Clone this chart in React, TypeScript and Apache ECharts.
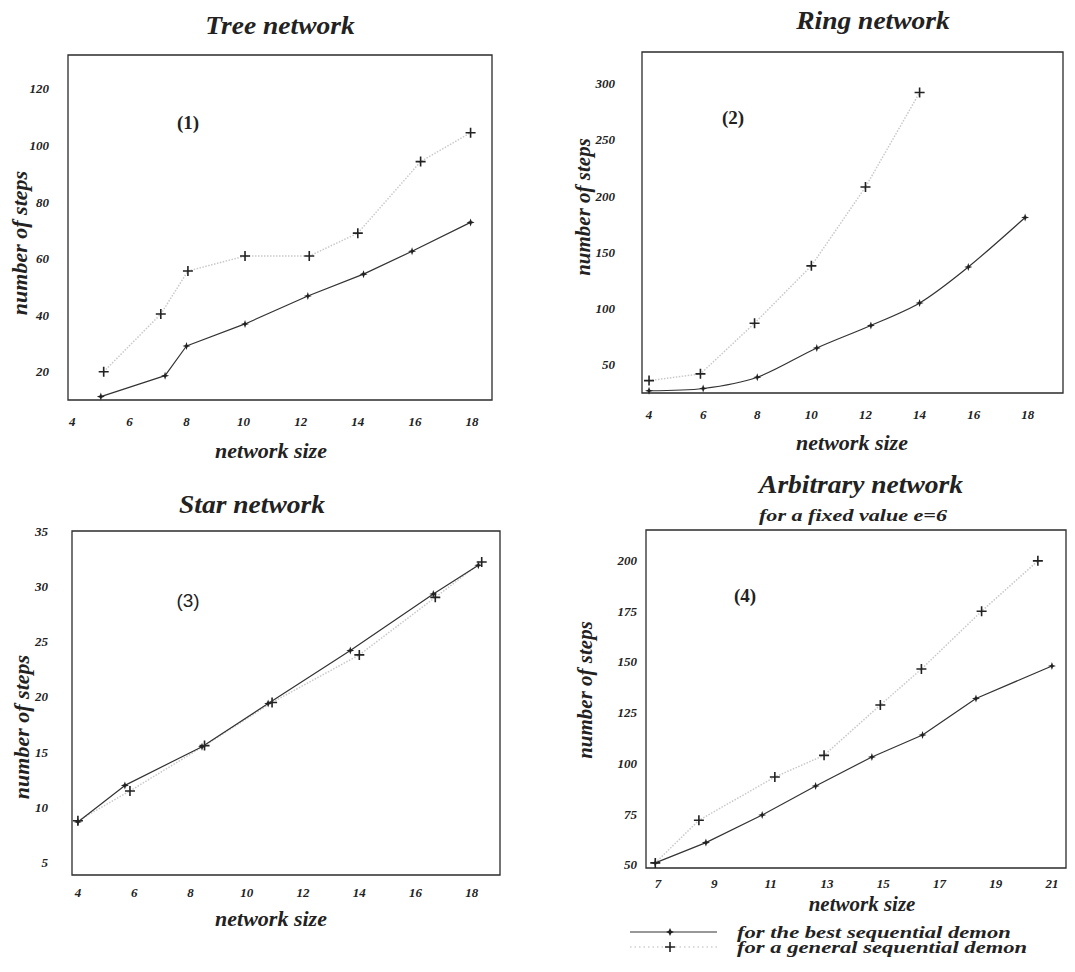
import React, { useEffect, useRef } from "react";
import * as echarts from "echarts";

// ---------- data ----------
// (1) Tree network
const treeBestX = [5, 7.25, 8, 10.05, 12.25, 14.2, 15.9, 17.95];
const treeBestY = [11.2, 18.6, 29.1, 36.9, 46.8, 54.5, 62.6, 72.8];
const treeGenX = [5.1, 7.1, 8.05, 10.05, 12.3, 14, 16.2, 17.95];
const treeGenY = [20, 40.4, 55.6, 60.9, 60.9, 69, 94.3, 104.5];
const treeXTicks = [4, 6, 8, 10, 12, 14, 16, 18];
const treeYTicks = [20, 40, 60, 80, 100, 120];

// (2) Ring network
const ringBestX = [4, 6, 8, 10.2, 12.2, 14, 15.8, 17.9];
const ringBestY = [27, 29, 39, 65, 85, 105, 137, 181];
const ringGenX = [4, 5.9, 7.9, 10, 12, 14];
const ringGenY = [36, 42, 87, 138, 208, 292];
const ringXTicks = [4, 6, 8, 10, 12, 14, 16, 18];
const ringYTicks = [50, 100, 150, 200, 250, 300];

// (3) Star network
const starBestX = [4, 5.67, 8.41, 10.76, 13.68, 16.63, 18.23];
const starBestY = [8.7, 12, 15.5, 19.4, 24.2, 29.3, 31.9];
const starGenX = [4, 5.85, 8.5, 10.9, 14.0, 16.7, 18.35];
const starGenY = [8.8, 11.5, 15.6, 19.5, 23.8, 29.0, 32.2];
const starXTicks = [4, 6, 8, 10, 12, 14, 16, 18];
const starYTicks = [5, 10, 15, 20, 25, 30, 35];

// (4) Arbitrary network
const arbBestX = [6.9, 8.7, 10.7, 12.6, 14.6, 16.4, 18.3, 21];
const arbBestY = [51, 61, 74.6, 88.9, 103.2, 114, 132, 148];
const arbGenX = [6.9, 8.45, 11.15, 12.9, 14.9, 16.36, 18.5, 20.5];
const arbGenY = [51, 72, 93.3, 104, 128.8, 146.5, 175, 199.8];
const arbXTicks = [7, 9, 11, 13, 15, 17, 19, 21];
const arbYTicks = [50, 75, 100, 125, 150, 175, 200];

const legendNames = ["for the best sequential demon", "for a general sequential demon"];

// ---------- styling ----------
const SERIF = '"Liberation Serif", "Times New Roman", serif';
const INK = "#222";
const STAR_SYMBOL =
  "path://M5,0L6.3,3.7L10,5L6.3,6.3L5,10L3.7,6.3L0,5L3.7,3.7Z";
const PLUS_SYMBOL = "path://M4.2,0H5.8V4.2H10V5.8H5.8V10H4.2V5.8H0V4.2H4.2Z";

const zip = (xs: number[], ys: number[]) => xs.map((x, i) => [x, ys[i]]);

type Panel = {
  grid: { left: number; top: number; width: number; height: number };
  xMin: number; xMax: number; yMin: number; yMax: number;
  xTicks: number[]; yTicks: number[];
  xMargin: number; yMargin: number;
  best: number[][]; gen: number[][];
  smooth?: number;
};

const panels: Panel[] = [
  {
    grid: { left: 68, top: 55, width: 424, height: 345 },
    xMin: 3.85, xMax: 18.7, yMin: 10, yMax: 132,
    xTicks: treeXTicks, yTicks: treeYTicks, xMargin: 15, yMargin: 19,
    best: zip(treeBestX, treeBestY), gen: zip(treeGenX, treeGenY),
  },
  {
    grid: { left: 642, top: 52, width: 421, height: 341 },
    xMin: 3.74, xMax: 19.3, yMin: 25, yMax: 328,
    xTicks: ringXTicks, yTicks: ringYTicks, xMargin: 15, yMargin: 27,
    best: zip(ringBestX, ringBestY), gen: zip(ringGenX, ringGenY), smooth: 0.3,
  },
  {
    grid: { left: 72, top: 531, width: 428, height: 344 },
    xMin: 3.79, xMax: 19.0, yMin: 3.9, yMax: 35,
    xTicks: starXTicks, yTicks: starYTicks, xMargin: 11, yMargin: 24,
    best: zip(starBestX, starBestY), gen: zip(starGenX, starGenY),
  },
  {
    grid: { left: 646, top: 530, width: 420, height: 338 },
    xMin: 6.57, xMax: 21.5, yMin: 48.5, yMax: 215,
    xTicks: arbXTicks, yTicks: arbYTicks, xMargin: 9, yMargin: 9,
    best: zip(arbBestX, arbBestY), gen: zip(arbGenX, arbGenY),
  },
];

const tickLabel = (margin: number) => ({
  margin,
  fontFamily: SERIF,
  fontStyle: "italic",
  fontWeight: "bold",
  fontSize: 13,
  color: INK,
});

const text = (
  x: number, y: number, t: string, size: number, opts: any = {}
) => ({
  type: "text",
  x, y,
  rotation: opts.rotation || 0,
  scaleX: opts.scaleX || 1,
  style: {
    text: t,
    fontFamily: opts.fontFamily || SERIF,
    fontStyle: opts.fontStyle || "italic",
    fontWeight: opts.fontWeight || "bold",
    fontSize: size,
    fill: INK,
    textAlign: opts.align || "center",
    textVerticalAlign: "middle",
  },
});

function buildOption() {
  const grid = panels.map((p) => ({
    ...p.grid,
    show: true,
    borderColor: "#2b2b2b",
    borderWidth: 1.3,
    backgroundColor: "transparent",
  }));
  const xAxis = panels.map((p, i) => ({
    type: "value",
    gridIndex: i,
    min: p.xMin,
    max: p.xMax,
    axisLine: { show: false },
    axisTick: { show: false },
    splitLine: { show: false },
    axisLabel: { ...tickLabel(p.xMargin), customValues: p.xTicks },
  }));
  const yAxis = panels.map((p, i) => ({
    type: "value",
    gridIndex: i,
    min: p.yMin,
    max: p.yMax,
    axisLine: { show: false },
    axisTick: { show: false },
    splitLine: { show: false },
    axisLabel: { ...tickLabel(p.yMargin), customValues: p.yTicks },
  }));
  const series: any[] = [];
  panels.forEach((p, i) => {
    series.push({
      name: legendNames[1],
      type: "line",
      xAxisIndex: i,
      yAxisIndex: i,
      data: p.gen,
      symbol: PLUS_SYMBOL,
      symbolSize: 10,
      lineStyle: { color: "#c9c9c9", width: 1.5, type: "dotted" },
      itemStyle: { color: INK },
      z: 2,
    });
    series.push({
      name: legendNames[0],
      type: "line",
      xAxisIndex: i,
      yAxisIndex: i,
      data: p.best,
      smooth: p.smooth || false,
      symbol: STAR_SYMBOL,
      symbolSize: 8,
      lineStyle: { color: "#333", width: 1.2 },
      itemStyle: { color: INK },
      z: 3,
    });
  });

  const graphic: any[] = [
    // titles
    text(280, 26, "Tree network", 25, { scaleX: 1.1 }),
    text(873, 21, "Ring network", 25, { scaleX: 1.1 }),
    text(252, 505, "Star network", 25, { scaleX: 1.1 }),
    text(861, 485, "Arbitrary network", 25, { scaleX: 1.1 }),
    text(853, 515, "for a fixed value e=6", 17, { scaleX: 1.3 }),
    // panel tags
    text(188, 122, "(1)", 19, { fontStyle: "normal" }),
    text(733, 117, "(2)", 19, { fontStyle: "normal" }),
    text(188, 600, "(3)", 19, { fontStyle: "normal", fontWeight: "normal", fontFamily: '"Liberation Sans", Arial, sans-serif' }),
    text(745, 595, "(4)", 19, { fontStyle: "normal" }),
    // y axis names
    text(19, 243, "number of steps", 22, { rotation: Math.PI / 2 }),
    text(583, 207, "number of steps", 21, { rotation: Math.PI / 2 }),
    text(21, 727, "number of steps", 22, { rotation: Math.PI / 2 }),
    text(585, 690, "number of steps", 21, { rotation: Math.PI / 2 }),
    // x axis names
    text(271, 450, "network size", 22),
    text(852, 442, "network size", 22),
    text(271, 918, "network size", 22),
    text(862, 904, "network size", 21),
    // legend
    { type: "line", shape: { x1: 630, y1: 932, x2: 717, y2: 932 }, style: { stroke: "#333", lineWidth: 1.2 } },
    { type: "polygon", shape: { points: [[670, 928], [671.3, 930.7], [674, 932], [671.3, 933.3], [670, 936], [668.7, 933.3], [666, 932], [668.7, 930.7]] }, style: { fill: INK } },
    text(737, 932, legendNames[0], 17, { align: "left", scaleX: 1.33 }),
    { type: "line", shape: { x1: 630, y1: 947, x2: 717, y2: 947 }, style: { stroke: "#cfcfcf", lineWidth: 1.5, lineDash: [1.5, 3] } },
    { type: "polygon", shape: { points: [[669.2, 942], [670.8, 942], [670.8, 946.2], [675, 946.2], [675, 947.8], [670.8, 947.8], [670.8, 952], [669.2, 952], [669.2, 947.8], [665, 947.8], [665, 946.2], [669.2, 946.2]] }, style: { fill: INK } },
    text(737, 947, legendNames[1], 17, { align: "left", scaleX: 1.33 }),
  ];

  return {
    animation: false,
    backgroundColor: "#ffffff",
    grid,
    xAxis,
    yAxis,
    series,
    graphic,
  };
}

export default function App() {
  const ref = useRef<HTMLDivElement>(null);
  useEffect(() => {
    if (!ref.current) return;
    const chart = echarts.init(ref.current, null, { renderer: "svg" });
    chart.setOption(buildOption() as any);
    return () => chart.dispose();
  }, []);
  return (
    <div
      ref={ref}
      style={{ position: "absolute", left: 0, top: 0, width: 1075, height: 972 }}
    />
  );
}
